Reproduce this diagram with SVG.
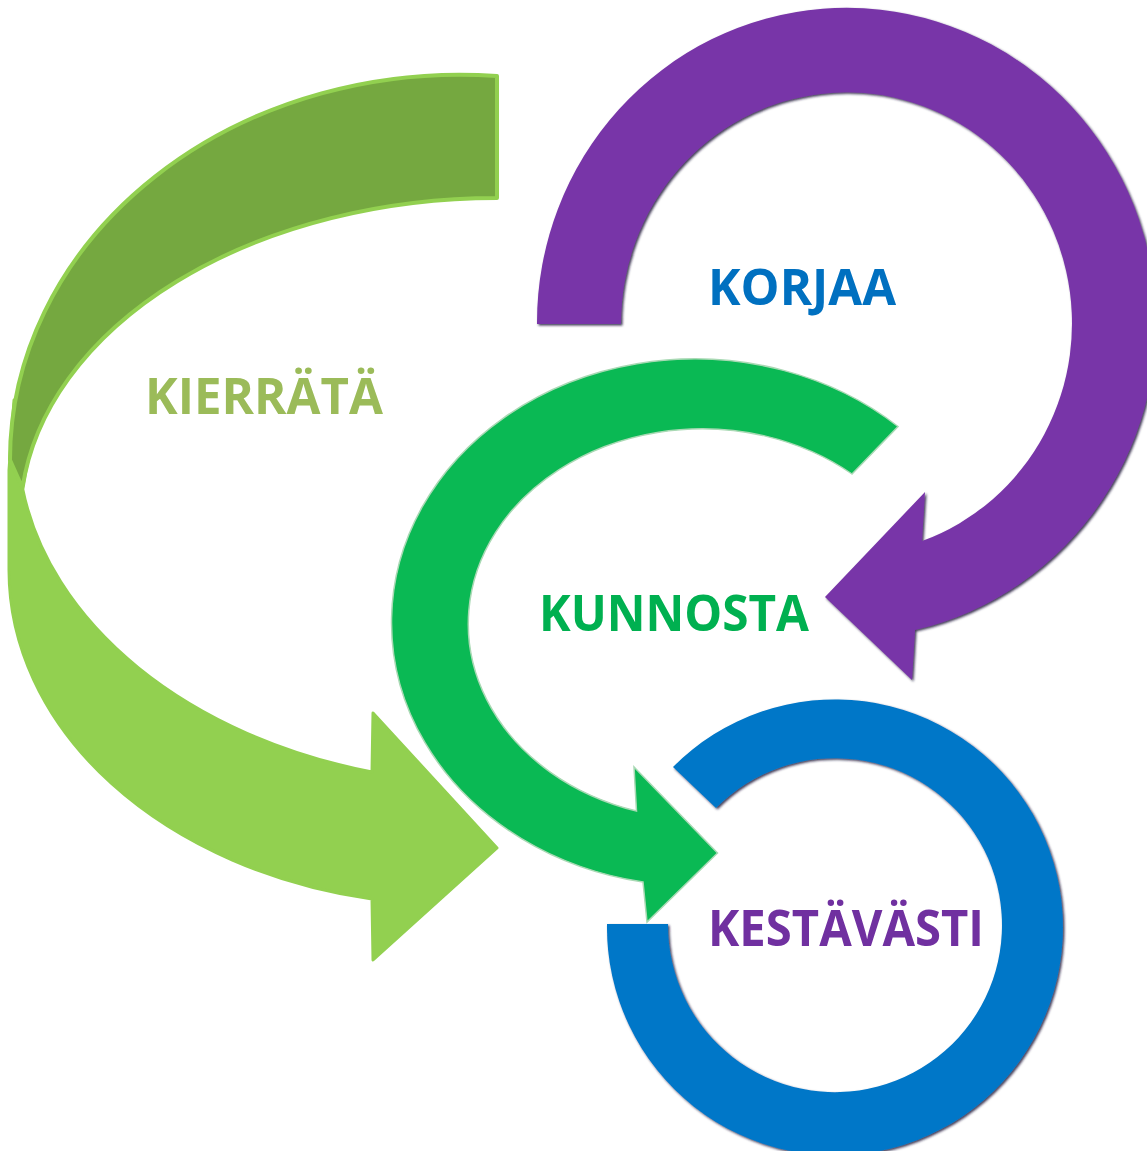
<svg xmlns="http://www.w3.org/2000/svg" width="1147" height="1151" viewBox="0 0 1147 1151">
  <style>
    .lbl { font-family: "Open Sans", Lato, "Liberation Sans", sans-serif; font-weight: 700; font-size: 51px; }
    .light { fill: #92D050; stroke: #92D050; stroke-width: 3; stroke-linejoin: round; }
    .dark { fill: #75A840; stroke: #92D050; stroke-width: 4; stroke-linejoin: round; }
    .purple { fill: #7836A8; }
    .green { fill: #0AB954; stroke: #A9D9B4; stroke-width: 1.5; }
    .blue { fill: #0677C8; }
  </style>
  <defs>
    <filter id="edge" x="-5%" y="-5%" width="110%" height="110%">
      <feDropShadow dx="1.5" dy="1.5" stdDeviation="0.8" flood-color="#1a1538" flood-opacity="0.85"/>
    </filter>
  </defs>
  <rect width="1147" height="1151" fill="#FFFFFF"/>
  <g id="connectors">
    <g id="arrow-kierrata">
      <path class="light" d="M372,899 A447,335 0 0,1 9,570 L9,470 L14,400 L40,400 L22.5,488 A480,345 0 0,0 372,772 L373,713 L497,848 L373,960 Z"/>
      <path class="dark" d="M497,76 A450,385 0 0,0 10,460 L22.5,488 A477,322 0 0,1 497,198 Z"/>
    </g>
    <path id="arrow-korjaa" class="purple" filter="url(#edge)" d="M537,324 A309.5,315 0 1,1 915,630 L912,680 L825,597 L925,492 L922,541 A225.5,231 0 1,0 621,324 Z"/>
    <path id="arrow-kunnosta" class="green" d="M898,426.5 A303.5,263.5 0 1,0 643,882 L647,922 L717.5,853 L634,767 L636.5,811 A234,195 0 1,1 852,474 Z"/>
    <path id="ring-kestavasti" class="blue" filter="url(#edge)" d="M607,924 A228,228 0 1,0 673,767 L716,808 A167,167 0 1,1 668,924 Z"/>
  </g>
  <g id="node-kierrata">
    <text class="lbl" x="145" y="414" fill="#9BBB59" textLength="238" lengthAdjust="spacingAndGlyphs">KIERRÄTÄ</text>
  </g>
  <g id="node-korjaa">
    <text class="lbl" x="708" y="305" fill="#0070C0" textLength="188" lengthAdjust="spacingAndGlyphs">KORJAA</text>
  </g>
  <g id="node-kunnosta">
    <text class="lbl" x="539" y="631" fill="#00B050" textLength="270" lengthAdjust="spacingAndGlyphs">KUNNOSTA</text>
  </g>
  <g id="node-kestavasti">
    <text class="lbl" x="708" y="946" fill="#7030A0" textLength="276" lengthAdjust="spacingAndGlyphs">KESTÄVÄSTI</text>
  </g>
</svg>
